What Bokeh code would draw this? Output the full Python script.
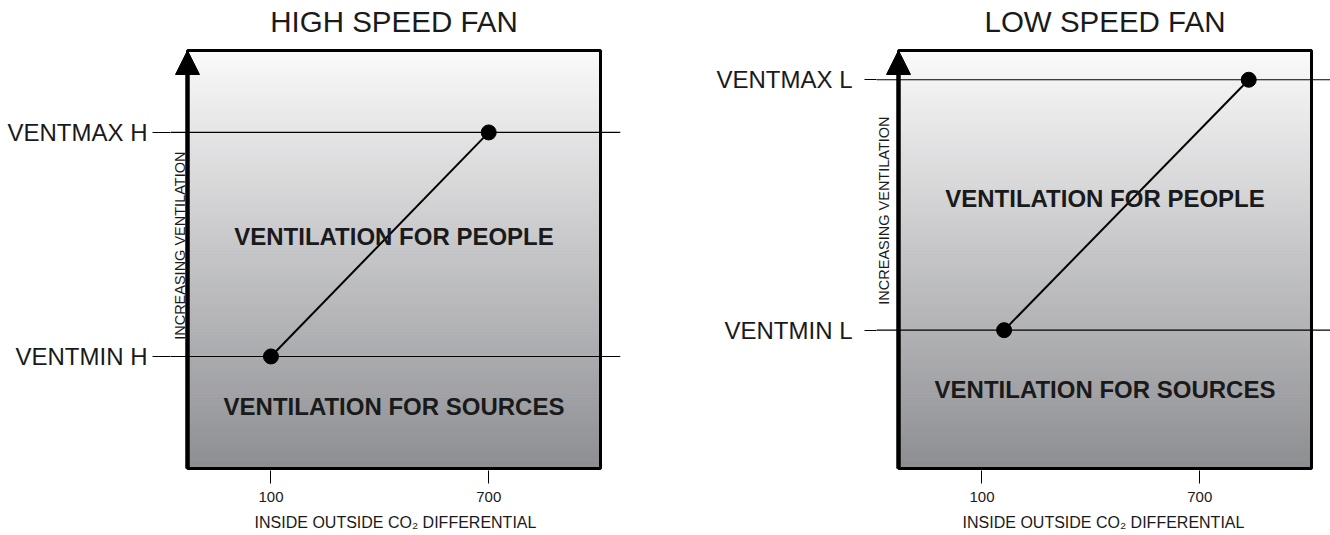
import numpy as np
from bokeh.plotting import figure
from bokeh.layouts import row
from bokeh.models import FixedTicker, Span, Label, Arrow, NormalHead, Range1d
from bokeh.embed import file_html
from bokeh.resources import INLINE

# ---------------- data ----------------
x_ticks = [100, 700]
x_tick_labels = ["100", "700"]

hi_title = "HIGH SPEED FAN"
hi_x = [100, 700]
hi_y = [26.8, 80.4]
hi_level_labels = ["VENTMIN H", "VENTMAX H"]

lo_title = "LOW SPEED FAN"
lo_x = [161, 835]
lo_y = [33.1, 93.0]
lo_level_labels = ["VENTMIN L", "VENTMAX L"]

region_labels = ["VENTILATION FOR PEOPLE", "VENTILATION FOR SOURCES"]
x_label = "INSIDE OUTSIDE CO\u2082 DIFFERENTIAL"
y_label = "INCREASING VENTILATION"

# chart box extent in data units
BOX_X = (-130, 1008)
BOX_Y = (0, 100)

FONT = "Liberation Sans"
TXT = "#1a1a1a"
BOX_PX_W = 413.0
BOX_PX_H = 418.0
PAD_TOP_PX = 50      # room above the box (title lives inside the frame)
PAD_BOTTOM_PX = 2    # keeps the bottom border fully visible


def make_panel(title, xs, ys, level_labels, width, mb_left, mb_right,
               pad_left_px, pad_right_px, left_tick_out, left_standoff,
               ylabel_offset, people_y, sources_y, ylabel_y):
    ux = BOX_PX_W / (BOX_X[1] - BOX_X[0])   # px per x unit
    uy = BOX_PX_H / (BOX_Y[1] - BOX_Y[0])   # px per y unit
    xr = Range1d(BOX_X[0] - pad_left_px / ux, BOX_X[1] + pad_right_px / ux)
    yr = Range1d(BOX_Y[0] - PAD_BOTTOM_PX / uy, BOX_Y[1] + PAD_TOP_PX / uy)
    p = figure(width=width, height=535, output_backend="svg", toolbar_location=None,
               x_range=xr, y_range=yr,
               min_border_left=mb_left, min_border_right=mb_right,
               min_border_top=0, min_border_bottom=65)
    p.background_fill_color = "white"
    p.border_fill_color = "white"
    p.outline_line_color = None
    p.xgrid.visible = False
    p.ygrid.visible = False

    # gradient background of the box
    n = 140
    edges = np.linspace(BOX_Y[0], BOX_Y[1], n + 1)
    t = ((edges[:-1] + edges[1:]) / 2 - BOX_Y[0]) / (BOX_Y[1] - BOX_Y[0])
    top = np.array([250, 250, 250])
    bot = np.array([141, 142, 146])
    cols = ["#%02x%02x%02x" % tuple(np.round(bot + (top - bot) * ti).astype(int)) for ti in t]
    p.quad(left=BOX_X[0], right=BOX_X[1], bottom=edges[:-1], top=edges[1:],
           fill_color=cols, line_color=cols, line_width=1)
    # box border
    p.quad(left=[BOX_X[0]], right=[BOX_X[1]], bottom=[BOX_Y[0]], top=[BOX_Y[1]],
           fill_color=None, line_color="black", line_width=3)

    # level lines
    for v in ys:
        p.add_layout(Span(location=v, dimension="width", line_color="black", line_width=1.2))

    # set-point line and dots
    p.line(xs, ys, line_color="black", line_width=2)
    p.scatter(xs, ys, size=15, fill_color="black", line_color="black")

    # x axis
    xa = p.xaxis[0]
    xa.ticker = FixedTicker(ticks=x_ticks)
    xa.major_label_overrides = {float(k): s for k, s in zip(x_ticks, x_tick_labels)}
    xa.axis_line_color = None
    xa.major_tick_out = 13
    xa.major_tick_in = 0
    xa.minor_tick_out = 0
    xa.minor_tick_in = 0
    xa.major_tick_line_color = "black"
    xa.major_tick_line_width = 1
    xa.major_label_text_font = FONT
    xa.major_label_text_font_size = "15px"
    xa.major_label_text_color = TXT
    xa.major_label_standoff = 8
    xa.axis_label = x_label
    xa.axis_label_text_font = FONT
    xa.axis_label_text_font_size = "16px"
    xa.axis_label_text_font_style = "normal"
    xa.axis_label_text_color = TXT
    xa.axis_label_standoff = 9

    # left y axis with level names (ticks extend the level lines)
    ya = p.yaxis[0]
    ya.ticker = FixedTicker(ticks=list(ys))
    ya.major_label_overrides = {float(v): s for v, s in zip(ys, level_labels)}
    ya.axis_line_color = None
    ya.major_tick_out = left_tick_out
    ya.major_tick_in = 0
    ya.minor_tick_out = 0
    ya.minor_tick_in = 0
    ya.major_tick_line_color = "black"
    ya.major_tick_line_width = 1.2
    ya.major_label_text_font = FONT
    ya.major_label_text_font_size = "24px"
    ya.major_label_text_color = TXT
    ya.major_label_standoff = left_standoff

    # arrow on the vertical axis
    p.add_layout(Arrow(end=NormalHead(size=24, fill_color="black", line_color="black", line_width=1),
                       x_start=BOX_X[0], y_start=BOX_Y[0], x_end=BOX_X[0], y_end=BOX_Y[1],
                       line_color="black", line_width=4.5))

    xc = (BOX_X[0] + BOX_X[1]) / 2
    # title
    p.add_layout(Label(x=xc, y=BOX_Y[1], y_offset=29.5, text=title, text_align="center",
                       text_baseline="alphabetic", text_font=FONT, text_font_size="29.5px",
                       text_color=TXT))

    # vertical axis caption
    p.add_layout(Label(x=BOX_X[0], y=ylabel_y, x_offset=ylabel_offset, text=y_label, angle=np.pi / 2,
                       text_align="center", text_baseline="middle", text_font=FONT,
                       text_font_size="14.5px", text_color=TXT))

    # region names
    for txt, yy in zip(region_labels, [people_y, sources_y]):
        p.add_layout(Label(x=xc, y=yy, text=txt, text_align="center", text_baseline="middle",
                           text_font=FONT, text_font_size="24px", text_font_style="bold",
                           text_color=TXT))
    return p


p1 = make_panel(hi_title, hi_x, hi_y, hi_level_labels, width=650, mb_left=170, mb_right=30,
                pad_left_px=17, pad_right_px=20, left_tick_out=18, left_standoff=5,
                ylabel_offset=-8, people_y=55.6, sources_y=14.8, ylabel_y=53.3)
p2 = make_panel(lo_title, lo_x, lo_y, lo_level_labels, width=680, mb_left=226, mb_right=0,
                pad_left_px=22, pad_right_px=19, left_tick_out=12, left_standoff=12,
                ylabel_offset=-15, people_y=64.6, sources_y=18.9, ylabel_y=61.7)

layout = row(p1, p2)
open("out.html", "w").write(file_html(layout, INLINE))
